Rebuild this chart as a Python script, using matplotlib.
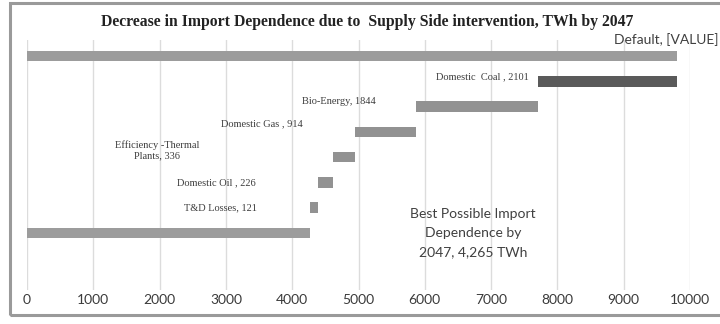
import matplotlib
matplotlib.use("Agg")
import matplotlib.pyplot as plt
from matplotlib.patches import Rectangle

# Import dependence waterfall (TWh by 2047)
best_case = 4265
interventions = ["Domestic  Coal", "Bio-Energy", "Domestic Gas", "Efficiency -Thermal\nPlants",
                 "Domestic Oil", "T&D Losses"]
reductions = [2101, 1844, 914, 336, 226, 121]
label_fmt = ["{} , {}", "{}, {}", "{} , {}", "{}, {}", "{} , {}", "{}, {}"]
default_total = best_case + sum(reductions)
x_ticks = [0, 1000, 2000, 3000, 4000, 5000, 6000, 7000, 8000, 9000, 10000]

W, H = 720, 324
fig = plt.figure(figsize=(W / 100, H / 100), dpi=100)
fig.patch.set_facecolor("white")

# outer chart frame
fig.add_artist(Rectangle((10 / W, 1 - 315 / H), 720 / W, 312 / H, transform=fig.transFigure,
                         fill=False, edgecolor="#9a9a9a", linewidth=2.2))

ax = fig.add_axes([27 / W, 1 - 290 / H, 663 / W, 250 / H])
ax.set_xlim(0, 10000)
ax.set_ylim(9.25, -0.63)
for s in ax.spines.values():
    s.set_visible(False)
ax.set_yticks([])
ax.set_xticks(x_ticks)
ax.set_xticklabels([str(t) for t in x_ticks], fontsize=10, family="Lato", color="#3a3a3a")
ax.tick_params(axis="x", length=0, pad=3)
ax.grid(axis="x", color="#dcdcdc", linewidth=1)
ax.set_axisbelow(True)

bar_h = 0.42
# default bar
ax.barh(0, default_total, left=0, height=bar_h, color="#9c9c9c")

# stepped intervention bars, from the top of the stack down
lefts = []
right = default_total
for v in reductions:
    lefts.append(right - v)
    right -= v
colors = ["#5a5a5a"] + ["#929292"] * (len(reductions) - 1)
rows = list(range(1, len(reductions) + 1))
ax.barh(rows, reductions, left=lefts, height=bar_h, color=colors)

# best possible bar
ax.barh(len(reductions) + 1, best_case, left=0, height=bar_h, color="#9c9c9c")

# data labels (offsets in pixels from the bar start)
offsets = [(-9, 4), (-40, 5), (-52, 8), (-176, 7), (-62, 0), (-53, 0)]
for name, v, fmt, lf, r, off in zip(interventions, reductions, label_fmt, lefts, rows, offsets):
    ha = "center" if "\n" in name else "right"
    ax.annotate(fmt.format(name, v), xy=(lf, r), xytext=off, textcoords="offset pixels",
                ha=ha, va="center", fontsize=7.5, family="Liberation Serif",
                color="#3c3c3c", linespacing=1.25)

ax.annotate("Default, [VALUE]", xy=(default_total, 0), xytext=(41, 16),
            textcoords="offset pixels", ha="right", va="center",
            fontsize=10, family="Lato", color="#404040", annotation_clip=False)

ax.text(6730, len(reductions) + 1, "Best Possible Import\nDependence by\n2047, {:,} TWh".format(best_case),
        ha="center", va="center", fontsize=10, family="Lato", color="#404040", linespacing=1.75)

fig.text(367 / W, 1 - 22 / H,
         "Decrease in Import Dependence due to  Supply Side intervention, TWh by 2047",
         ha="center", va="center", fontsize=11.3, fontweight="bold", family="Liberation Serif",
         color="#222222")

fig.savefig("out.png", dpi=100)
